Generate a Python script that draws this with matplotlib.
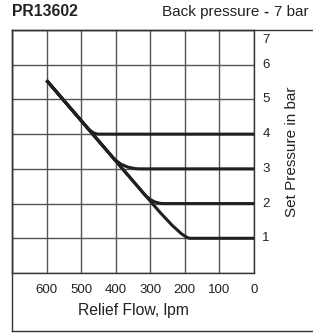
import matplotlib
matplotlib.use("Agg")
import matplotlib.pyplot as plt
import numpy as np
from matplotlib.lines import Line2D
from matplotlib.path import Path
from matplotlib.patches import PathPatch

plt.rcParams["font.family"] = ["Liberation Sans", "DejaVu Sans"]

# flow ticks (lpm) and pressure ticks (bar)
flow_ticks = [600, 500, 400, 300, 200, 100, 0]
pressure_ticks = [1, 2, 3, 4, 5, 6]

# common diagonal (relief flow vs pressure)
diag_flow = [600, 300]
diag_pressure = [5.55, 2.07]

# one curve per set pressure: leaves the diagonal at knee_start, flat from knee_end
set_pressure = [4, 3, 2, 1]
knee_start = [485, 410, 318, 290]
knee_end = [450, 330, 262, 185]

LINE = "#231f20"
GRID = "#555555"
TEXT = "#222222"

W, H = 313, 333
fig = plt.figure(figsize=(W / 100, H / 100), dpi=100)
ax = fig.add_axes([12 / W, 1 - 273 / H, 242 / W, 243 / H])
ax.set_xlim(700, 0)
ax.set_ylim(0, 7)

ax.set_xticks(range(0, 701, 100))
ax.set_yticks(range(0, 8))
ax.grid(True, color=GRID, lw=1)
ax.tick_params(length=0)
ax.set_xticklabels([])
ax.set_yticklabels([])
for s in ax.spines.values():
    s.set_color("#333333")
    s.set_linewidth(1)

slope = (diag_pressure[0] - diag_pressure[1]) / (diag_flow[0] - diag_flow[1])
for p, qa, qb in zip(set_pressure, knee_start, knee_end):
    pa = diag_pressure[0] - slope * (diag_flow[0] - qa)
    qc = diag_flow[0] - (diag_pressure[0] - p) / slope
    verts = [(diag_flow[0], diag_pressure[0]), (qa, pa), (qc, p), (qb, p), (0, p)]
    codes = [Path.MOVETO, Path.LINETO, Path.CURVE3, Path.CURVE3, Path.LINETO]
    ax.add_patch(PathPatch(Path(verts, codes), fill=False, ec=LINE, lw=2.2,
                           capstyle="butt", joinstyle="round", zorder=3))

# tick labels
for q in flow_ticks:
    ax.annotate(str(q), xy=(q, 0), xycoords=("data", "axes fraction"),
                xytext=(0, -12), textcoords="offset points",
                ha="center", va="center", fontsize=9.5, color=TEXT)
for p in pressure_ticks:
    ax.annotate(str(p), xy=(1, p), xycoords=("axes fraction", "data"),
                xytext=(6, 0), textcoords="offset points",
                ha="left", va="center", fontsize=9.5, color=TEXT)
ax.annotate("7", xy=(1, 7), xycoords=("axes fraction", "data"),
            xytext=(6, -7), textcoords="offset points",
            ha="left", va="center", fontsize=9.5, color=TEXT)

fig.text(133 / W, 1 - 311 / H, "Relief Flow, lpm", ha="center", va="center",
         fontsize=11.3, color=TEXT)
fig.text(292 / W, 1 - 152 / H, "Set Pressure in bar", ha="center", va="center",
         rotation=90, fontsize=11, color=TEXT)
fig.text(12 / W, 1 - 12 / H, "PR13602", ha="left", va="center",
         fontsize=11.3, fontweight="bold", color=TEXT)
fig.text(162 / W, 1 - 12 / H, "Back pressure", ha="left", va="center",
         fontsize=11, color=TEXT)
fig.text(263 / W, 1 - 12 / H, "-", ha="left", va="center",
         fontsize=11, fontweight="bold", color=TEXT)
fig.text(274 / W, 1 - 12 / H, "7 bar", ha="left", va="center",
         fontsize=11, color=TEXT)

# outer frame
for xs, ys in [([12, 12], [30, 331]), ([12, W], [30, 30]), ([12, W], [331, 331])]:
    fig.add_artist(Line2D([x / W for x in xs], [1 - y / H for y in ys],
                          transform=fig.transFigure, color="#333333", lw=1))

fig.savefig("out.png", dpi=100)
